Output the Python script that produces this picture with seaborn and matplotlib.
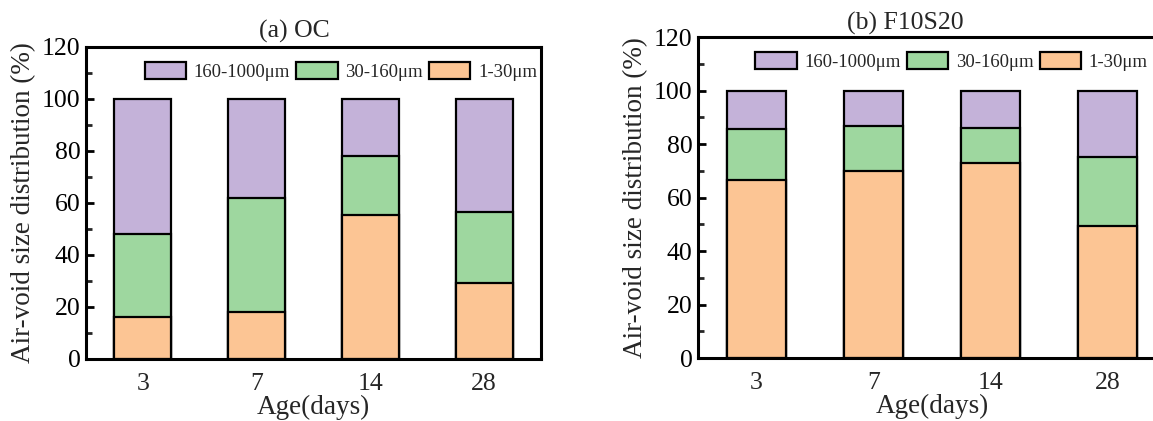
import matplotlib
matplotlib.use("Agg")
import matplotlib.pyplot as plt
import matplotlib.patches as mpatches
from matplotlib.ticker import MultipleLocator
import pandas as pd
import seaborn as sns

# Curing ages and size-class shares (% of air voids)
ages = ["3", "7", "14", "28"]
size_classes = ["160-1000μm", "30-160μm", "1-30μm"]

oc_fine = [16.2, 18.1, 55.5, 29.1]      # 1-30 μm
oc_medium = [31.8, 43.9, 22.4, 27.3]    # 30-160 μm
oc_coarse = [52.0, 38.0, 22.1, 43.6]    # 160-1000 μm

f10s20_fine = [66.6, 69.9, 72.8, 49.2]
f10s20_medium = [18.9, 16.7, 13.1, 25.8]
f10s20_coarse = [14.5, 13.4, 14.1, 25.0]

titles = ["(a) OC", "(b) F10S20"]
colors = {"160-1000μm": "#C4B2D9", "30-160μm": "#9ED79F", "1-30μm": "#FCC594"}

sns.set_theme(style="ticks")
plt.rcParams["font.family"] = ["Liberation Serif", "DejaVu Serif"]


def stacked_frame(fine, medium, coarse):
    df = pd.DataFrame({"age": ages, "1-30μm": fine, "30-160μm": medium,
                       "160-1000μm": coarse})
    df["top_fine"] = df["1-30μm"]
    df["top_medium"] = df["top_fine"] + df["30-160μm"]
    df["top_coarse"] = df["top_medium"] + df["160-1000μm"]
    return df


def draw_panel(ax, df, title, title_x, title_pad, legend_x):
    # tallest stack first, then the lower segments drawn over it
    for col, cls in [("top_coarse", "160-1000μm"), ("top_medium", "30-160μm"),
                     ("top_fine", "1-30μm")]:
        sns.barplot(data=df, x="age", y=col, order=ages, color=colors[cls],
                    saturation=1, width=0.5, edgecolor="black", linewidth=1.6,
                    ax=ax)
    ax.set_xlim(-0.5, 3.5)
    ax.set_ylim(0, 120)
    ax.yaxis.set_major_locator(MultipleLocator(20))
    ax.yaxis.set_minor_locator(MultipleLocator(10))
    ax.tick_params(axis="y", which="major", direction="in", length=6, width=2,
                   labelsize=18.5, pad=4, colors="black")
    ax.tick_params(axis="y", which="minor", direction="in", length=4, width=2)
    ax.tick_params(axis="x", length=0, labelsize=18.5, pad=10)
    for s in ax.spines.values():
        s.set_linewidth(2.2)
        s.set_color("black")
        s.set_visible(True)
    ax.set_xlabel("Age(days)", fontsize=19.5, labelpad=0)
    ax.set_ylabel("Air-void size distribution (%)", fontsize=19.5, labelpad=4)
    ax.set_title(title, fontsize=18.5, x=title_x, pad=title_pad)
    handles = [mpatches.Patch(facecolor=colors[c], edgecolor="black",
                              linewidth=1.6, label=c) for c in size_classes]
    ax.legend(handles=handles, loc="upper center",
              bbox_to_anchor=(legend_x, 1.0), ncol=3, frameon=False,
              fontsize=13.5, handlelength=2.2, handleheight=1.0,
              handletextpad=0.4, columnspacing=0.35, borderpad=0.3)


fig = plt.figure(figsize=(11.53, 4.21), dpi=100)
ax_a = fig.add_axes([0.0746, 0.1473, 0.3946, 0.7411])
ax_b = fig.add_axes([0.6054, 0.1496, 0.4059, 0.7625])

draw_panel(ax_a, stacked_frame(oc_fine, oc_medium, oc_coarse), titles[0],
           0.457, 7, 0.56)
draw_panel(ax_b, stacked_frame(f10s20_fine, f10s20_medium, f10s20_coarse),
           titles[1], 0.442, 5, 0.542)

fig.savefig("out.png", dpi=100, facecolor="white")
